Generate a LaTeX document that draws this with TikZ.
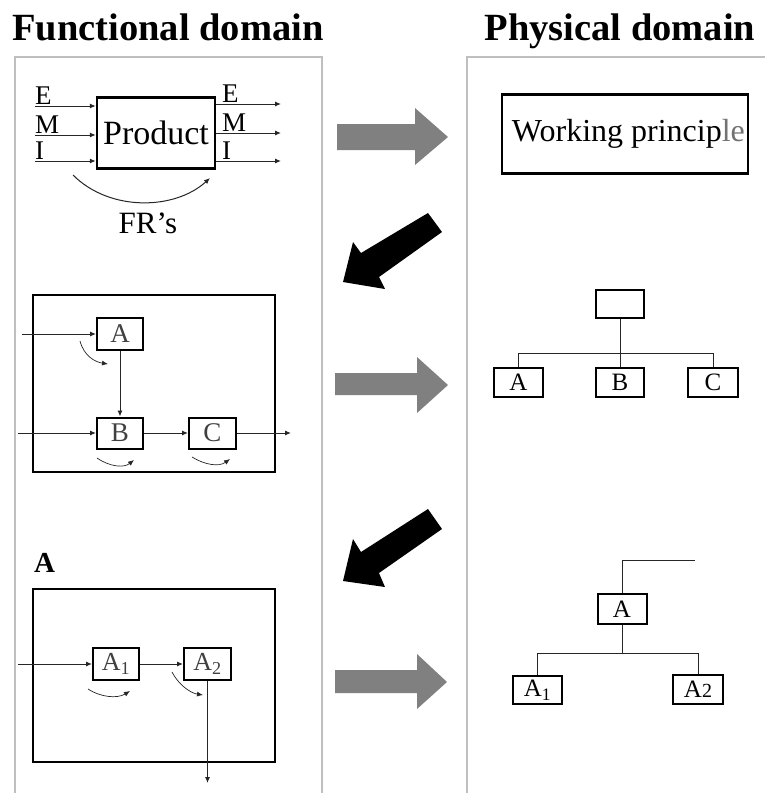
\documentclass[tikz,border=0pt]{standalone}
\usepackage{fontspec}
\setmainfont{Liberation Serif}
\usetikzlibrary{arrows.meta}
\newcommand{\fsz}[1]{\fontsize{#1}{#1}\selectfont}
\begin{document}
\begin{tikzpicture}[x=1pt,y=-1pt,
  title/.style={font=\fsz{38.5}\bfseries, inner sep=0pt, anchor=base},
  bigbox/.style={draw, line width=2.5pt, inner sep=0pt},
  smallbox/.style={draw, line width=2pt, inner sep=0pt, minimum width=47pt, minimum height=31pt, font=\fsz{27}},
  conn/.style={line width=1pt, draw=black!85},
  tip/.style={conn, -{Latex[length=6pt,width=5pt]}},
  lbl/.style={font=\fsz{27}, inner sep=0pt, anchor=base west},
  panel/.style={draw=black!25, line width=1.5pt},
  grayarrow/.style={fill=black!50, draw=none},
  blackarrow/.style={fill=black, draw=none}
]
\useasboundingbox (0,0) rectangle (764,793);
\fill[white] (0,0) rectangle (764,793);

% panels
\draw[panel] (15,805) -- (15,57) -- (322,57) -- (322,805);
\draw[panel] (467,805) -- (467,57) -- (770,57);

% titles
\node[title] (tf) at (168,40) {Functional domain};
\node[title] (tp) at (620,40) {Physical domain};

% ---------- top left: product
\node[bigbox, minimum width=118pt, minimum height=71pt, font=\fsz{34}] (P) at (156,133) {Product};
\coordinate (eL) at (35,106);
\coordinate (mL) at (35,135);
\coordinate (iL) at (35,161);
\draw[tip] (eL) -- (eL -| P.west);
\draw[tip] (mL) -- (mL -| P.west);
\draw[tip] (iL) -- (iL -| P.west);
\node[lbl] (le) at (35,104) {E};
\node[lbl] (lm) at (35,133) {M};
\node[lbl] (li) at (35,159) {I};
\coordinate (eR) at (281,104);
\coordinate (mR) at (281,133);
\coordinate (iR) at (281,161);
\draw[tip] (eR -| P.east) -- (eR);
\draw[tip] (mR -| P.east) -- (mR);
\draw[tip] (iR -| P.east) -- (iR);
\node[lbl] (re) at (222,102) {E};
\node[lbl] (rm) at (222,131) {M};
\node[lbl] (ri) at (222,159) {I};
\coordinate (fr1) at (73,175);
\coordinate (fr2) at (210,178);
\draw[tip] (fr1) .. controls (110,212) and (175,210) .. (fr2);
\node[font=\fsz{31}, inner sep=0pt, anchor=base] (fr) at (148,233) {FR’s};

% ---------- top right
\node[bigbox, minimum width=246pt, minimum height=79pt] (wp) at (625,134) {};
\node[font=\fsz{32}, inner sep=0pt, anchor=west] (wpt) at ([xshift=11pt]wp.west) {Working princip\textcolor{black!55}{le}};

% ---------- arrows between panels
\fill[grayarrow] (337,124) -- (415,124) -- (415,108) -- (448,137) -- (415,165) -- (415,150) -- (337,150) -- cycle;
\fill[grayarrow] (335,373) -- (417,373) -- (417,357) -- (448,385) -- (417,413) -- (417,395) -- (335,395) -- cycle;
\fill[grayarrow] (335,670) -- (417,670) -- (417,654) -- (447,682) -- (417,709) -- (417,693) -- (335,693) -- cycle;
\fill[blackarrow] (428,213) -- (442,232) -- (379,277) -- (385,289) -- (343,282) -- (353,242) -- (361,253) -- cycle;
\fill[blackarrow] (428,509) -- (442,529) -- (379,573) -- (385,587) -- (343,581) -- (353,539) -- (361,552) -- cycle;

% ---------- middle left
\draw[line width=2.5pt] (33,295) rectangle (275,472);
\node[smallbox, minimum width=46pt, minimum height=32pt, text=black!75] (A) at (120,334) {A};
\node[smallbox, minimum width=46pt, text=black!75] (B) at (120,433) {B};
\node[smallbox, text=black!75] (C) at (212.5,433) {C};
\coordinate (inA) at (22,334);
\coordinate (inB) at (18,433);
\coordinate (outC) at (291,433);
\draw[tip] (inA) -- (A.west);
\draw[tip] (inB) -- (B.west);
\draw[tip] (B.east) -- (C.west);
\draw[tip] (C.east) -- (outC);
\draw[tip] (A.south) -- (B.north);
\coordinate (a1s) at (80,341);
\coordinate (a1e) at (108,364);
\draw[tip, line width=0.7pt] (a1s) .. controls (84,356) and (95,362) .. (a1e);
\coordinate (b1s) at (97,458);
\coordinate (b1e) at (134,460);
\draw[tip, line width=0.7pt] (b1s) .. controls (110,467) and (124,468) .. (b1e);
\coordinate (c1s) at (192,457);
\coordinate (c1e) at (230,459);
\draw[tip, line width=0.7pt] (c1s) .. controls (205,465) and (219,467) .. (c1e);

% ---------- middle right
\node[smallbox, minimum width=48pt, minimum height=28pt] (T) at (620,304) {};
\node[smallbox, minimum width=49pt, minimum height=29pt, font=\fsz{25}] (RA) at (518.5,382.5) {A};
\node[smallbox, minimum width=48pt, minimum height=29pt, font=\fsz{25}] (RB) at (620,382.5) {B};
\node[smallbox, minimum width=50pt, minimum height=29pt, font=\fsz{25}] (RC) at (713,382.5) {C};
\coordinate (j1) at (620,353);
\draw[conn] (T.south) -- (j1);
\draw[conn] (j1) -| (RA.north);
\draw[conn] (j1) -| (RC.north);
\draw[conn] (j1) -- (RB.north);

% ---------- bottom left
\node[font=\fsz{29}\bfseries, inner sep=0pt, anchor=base west] (Alab) at (34,572) {A};
\draw[line width=2.5pt] (33,589) rectangle (275,762);
\node[smallbox, minimum width=46pt, minimum height=32pt, text=black!75, font=\fsz{26}] (A1) at (116,664) {A\textsubscript{1}};
\node[smallbox, minimum width=47pt, minimum height=32pt, text=black!75, font=\fsz{26}] (A2) at (207.5,664) {A\textsubscript{2}};
\coordinate (inA1) at (18,664);
\coordinate (outA2) at (207.5,783);
\draw[tip] (inA1) -- (A1.west);
\draw[tip] (A1.east) -- (A2.west);
\draw[tip] (A2.south) -- (outA2);
\coordinate (d1s) at (88,689);
\coordinate (d1e) at (130,691);
\draw[tip, line width=0.7pt] (d1s) .. controls (100,697) and (117,699) .. (d1e);
\coordinate (d2s) at (172,672);
\coordinate (d2e) at (203,695);
\draw[tip, line width=0.7pt] (d2s) .. controls (178,684) and (190,693) .. (d2e);

% ---------- bottom right
\node[smallbox, minimum width=49pt, minimum height=30pt, font=\fsz{25}] (BA) at (622,609) {A};
\node[smallbox, minimum width=49pt, minimum height=28pt, font=\fsz{25}] (BA1) at (537.5,690) {A\textsubscript{1}};
\node[smallbox, line width=1.6pt, minimum width=50pt, minimum height=29pt, font=\fsz{25}] (BA2) at (698,689.5) {A{\fsz{20}2}};
\coordinate (up) at (695,560);
\coordinate (j2) at (622,653);
\draw[conn] (BA.north) |- (up);
\draw[conn] (BA.south) -- (j2);
\draw[conn] (j2) -| (BA1.north);
\draw[conn] (j2) -| (BA2.north);
\end{tikzpicture}
\end{document}
